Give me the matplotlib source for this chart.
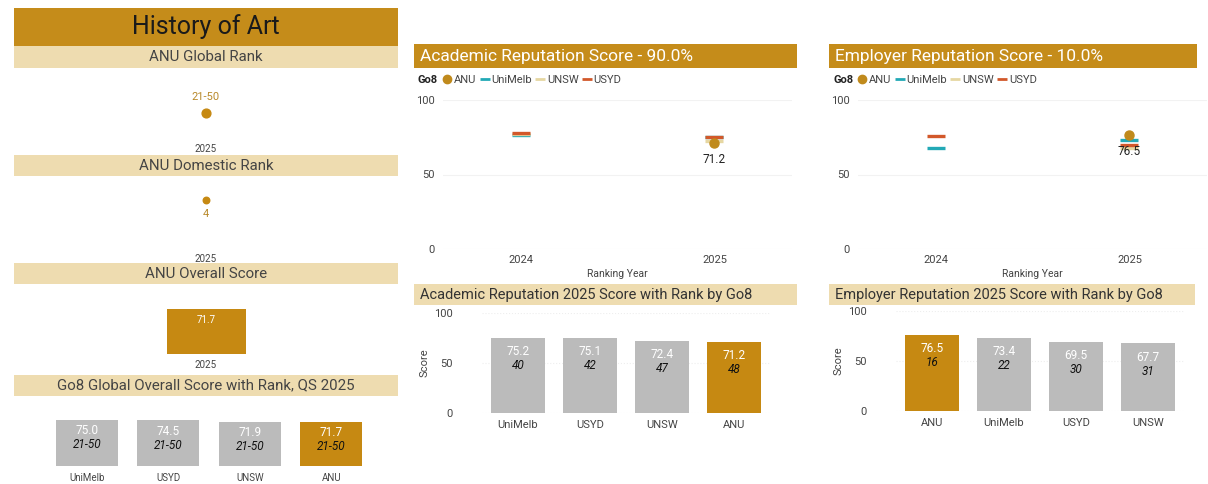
import matplotlib.pyplot as plt
import numpy as np
from matplotlib.patches import Rectangle
from matplotlib.lines import Line2D

plt.rcParams['font.family'] = ['Roboto', 'DejaVu Sans']

# datos
years = ['2024', '2025']
unis_line = ['ANU', 'UniMelb', 'UNSW', 'USYD']
acad_line = {
    'ANU': [np.nan, 71.2],
    'UniMelb': [76.3, 75.2],
    'UNSW': [77.1, 72.4],
    'USYD': [78.0, 75.1],
}
emp_line = {
    'ANU': [np.nan, 76.5],
    'UniMelb': [67.8, 73.4],
    'UNSW': [np.nan, 67.7],
    'USYD': [76.0, 69.5],
}

global_rank = '21-50'
domestic_rank = 4
overall_year = ['2025']
overall_score = [71.7]

go8_unis = ['UniMelb', 'USYD', 'UNSW', 'ANU']
go8_scores = [75.0, 74.5, 71.9, 71.7]
go8_ranks = ['21-50', '21-50', '21-50', '21-50']

acad_unis = ['UniMelb', 'USYD', 'UNSW', 'ANU']
acad_scores = [75.2, 75.1, 72.4, 71.2]
acad_ranks = [40, 42, 47, 48]

emp_unis = ['ANU', 'UniMelb', 'USYD', 'UNSW']
emp_scores = [76.5, 73.4, 69.5, 67.7]
emp_ranks = [16, 22, 30, 31]

# colores
GOLD = '#C58C1A'
ANU_C = '#C68912'
BAND = '#EEDCB0'
GREY = '#BBBBBB'
line_colors = {'ANU': '#C08A1C', 'UniMelb': '#22A9B6', 'UNSW': '#E6D7A2', 'USYD': '#D2582A'}
TXT = '#444444'

W, H = 1208, 484
fig = plt.figure(figsize=(W / 100, H / 100), dpi=100)


def px_ax(x0, y0, x1, y1):
    return fig.add_axes([x0 / W, 1 - y1 / H, (x1 - x0) / W, (y1 - y0) / H])


def band(x0, y0, x1, y1, color, text, tcolor, size, center=True, weight='normal'):
    fig.add_artist(Rectangle((x0 / W, 1 - y1 / H), (x1 - x0) / W, (y1 - y0) / H,
                             transform=fig.transFigure, color=color, lw=0))
    if center:
        fig.text((x0 + x1) / 2 / W, 1 - (y0 + y1) / 2 / H, text, color=tcolor,
                 fontsize=size, ha='center', va='center', weight=weight)
    else:
        fig.text((x0 + 6) / W, 1 - (y0 + y1) / 2 / H, text, color=tcolor,
                 fontsize=size, ha='left', va='center', weight=weight)


def clean(ax):
    for s in ax.spines.values():
        s.set_visible(False)
    ax.tick_params(length=0)
    ax.set_facecolor('none')


# ---------- panel izquierdo ----------
band(14, 8, 398, 46, GOLD, 'History of Art', '#1a1a1a', 18)
band(14, 46, 398, 68, BAND, 'ANU Global Rank', TXT, 10.8)
band(14, 155, 398, 176, BAND, 'ANU Domestic Rank', TXT, 10.8)
band(14, 263, 398, 284, BAND, 'ANU Overall Score', TXT, 10.8)
band(14, 375, 398, 396, BAND, 'Go8 Global Overall Score with Rank, QS 2025', TXT, 10.8)

# global rank
ax = px_ax(14, 85, 398, 141)
ax.scatter([0], [1], s=40, color=ANU_C, zorder=3)
ax.annotate(global_rank, (0, 1), xytext=(0, 8), textcoords='offset points',
            color='#B8892A', fontsize=8, ha='center', va='bottom')
ax.set_xlim(-0.5, 0.5)
ax.set_ylim(0, 2)
ax.set_xticks([0])
ax.set_xticklabels(overall_year, fontsize=7, color=TXT)
ax.set_yticks([])
ax.tick_params(axis='x', pad=2)
clean(ax)

# domestic rank
ax = px_ax(14, 186, 398, 249)
ax.scatter([0], [domestic_rank], s=22, color=ANU_C, zorder=3)
ax.annotate(str(domestic_rank), (0, domestic_rank), xytext=(0, -10),
            textcoords='offset points', color='#B8892A', fontsize=8,
            ha='center', va='center')
ax.set_xlim(-0.5, 0.5)
ax.set_ylim(0, 5.15)
ax.set_xticks([0])
ax.set_xticklabels(overall_year, fontsize=7, color=TXT)
ax.set_yticks([])
clean(ax)

# overall score
ax = px_ax(14, 300, 398, 354)
ax.bar([0], overall_score, width=79 / 384, color=ANU_C)
ax.annotate(f'{overall_score[0]:.1f}', (0, overall_score[0]), xytext=(0, -8),
            textcoords='offset points', color='white', fontsize=7,
            ha='center', va='center')
ax.set_xlim(-0.5, 0.5)
ax.set_ylim(0, 86)
ax.set_xticks([0])
ax.set_xticklabels(overall_year, fontsize=7, color=TXT)
ax.set_yticks([])
ax.tick_params(axis='x', pad=4)
clean(ax)

# go8 global
ax = px_ax(46, 408, 372, 466)
cols = [ANU_C if u == 'ANU' else GREY for u in go8_unis]
x = np.arange(len(go8_unis))
ax.bar(x, go8_scores, width=0.76, color=cols)
for i in range(len(x)):
    ax.annotate(f'{go8_scores[i]:.1f}', (x[i], go8_scores[i]), xytext=(0, -8),
                textcoords='offset points', color='white', fontsize=8.5,
                ha='center', va='center')
    ax.annotate(go8_ranks[i], (x[i], go8_scores[i]), xytext=(0, -18),
                textcoords='offset points', color='#111111', fontsize=8.5,
                ha='center', va='center', style='italic')
ax.set_xlim(-0.5, 3.5)
ax.set_ylim(0, 94)
ax.set_xticks(x)
ax.set_xticklabels(go8_unis, fontsize=7, color=TXT)
ax.set_yticks([])
ax.tick_params(axis='x', pad=5)
clean(ax)


# ---------- graficos de linea ----------
def line_chart(x0, x1, title, data, label_val):
    band(x0, 44, x1, 68, GOLD, title, 'white', 12.5, center=False)
    ax = px_ax(x0 + 29, 100, x0 + 29 + 349, 249)
    xs = np.arange(len(years))
    for u in unis_line:
        if u == 'ANU':
            ax.plot(xs, data[u], 'o', color=line_colors[u], ms=6.5, zorder=3)
        else:
            ax.plot(xs, data[u], '_', color=line_colors[u], ms=13, mew=2.4, zorder=2)
    ax.annotate(f'{label_val:.1f}', (1, label_val), xytext=(0, -7),
                textcoords='offset points', color='#222222', fontsize=8.5,
                ha='center', va='top', zorder=5)
    ax.set_xlim(-0.4, 1.4)
    ax.set_ylim(0, 100)
    ax.set_yticks([0, 50, 100])
    ax.set_xticks(xs)
    ax.set_xticklabels(years)
    ax.tick_params(axis='both', labelsize=8, colors=TXT)
    ax.tick_params(axis='y', pad=6)
    ax.tick_params(axis='x', pad=4)
    ax.grid(axis='y', color='#F2F2F2', lw=0.8)
    ax.set_axisbelow(True)
    ax.set_xlabel('Ranking Year', fontsize=7.5, color=TXT, labelpad=3)
    clean(ax)
    # leyenda
    fig.text((x0 + 4) / W, 1 - 80 / H, 'Go8', fontsize=8, weight='bold', color='#222222',
             va='center')
    handles = []
    for u in unis_line:
        if u == 'ANU':
            handles.append(Line2D([], [], marker='o', ls='', color=line_colors[u], ms=6))
        else:
            handles.append(Line2D([], [], marker='_', ls='', color=line_colors[u], ms=7, mew=2))
    fig.legend(handles, unis_line, loc='center left',
               bbox_to_anchor=((x0 + 30) / W, 1 - 80 / H), ncol=4, frameon=False,
               fontsize=8, handlelength=0.6, handletextpad=0.3, columnspacing=0.45,
               labelcolor=TXT, borderpad=0, borderaxespad=0)


line_chart(414, 797, 'Academic Reputation Score - 90.0%', acad_line, acad_line['ANU'][1])
line_chart(829, 1197, 'Employer Reputation Score - 10.0%', emp_line, emp_line['ANU'][1])


# ---------- barras por Go8 ----------
def bar_chart(x0, x1, ax_x0, ybase, title, unis, scores, ranks, lab_x):
    band(x0, 284, x1, 305, BAND, title, '#333333', 10.5, center=False)
    ax = px_ax(ax_x0, ybase - 100, ax_x0 + 288, ybase)
    xs = np.arange(len(unis))
    cols = [ANU_C if u == 'ANU' else GREY for u in unis]
    ax.bar(xs, scores, width=0.76, color=cols)
    for i in range(len(xs)):
        ax.annotate(f'{scores[i]:.1f}', (xs[i], scores[i]), xytext=(0, -10),
                    textcoords='offset points', color='white', fontsize=8.5,
                    ha='center', va='center')
        ax.annotate(str(ranks[i]), (xs[i], scores[i]), xytext=(0, -20),
                    textcoords='offset points', color='#111111', fontsize=8.5,
                    ha='center', va='center', style='italic')
    ax.set_xlim(-0.5, 3.5)
    ax.set_ylim(0, 100)
    ax.set_yticks([0, 50, 100])
    ax.set_xticks(xs)
    ax.set_xticklabels(unis)
    ax.tick_params(axis='both', labelsize=8, colors=TXT)
    ax.tick_params(axis='y', pad=21)
    ax.tick_params(axis='x', pad=5)
    ax.grid(axis='y', color='#EEEEEE', lw=0.8, ls=':')
    ax.set_axisbelow(True)
    ax.set_ylabel('Score', fontsize=8, color=TXT)
    ax.yaxis.set_label_coords((lab_x + 6 - ax_x0) / 288, 0.5)
    clean(ax)


bar_chart(414, 797, 482, 413, 'Academic Reputation 2025 Score with Rank by Go8',
          acad_unis, acad_scores, acad_ranks, 423)
bar_chart(829, 1195, 896, 411, 'Employer Reputation 2025 Score with Rank by Go8',
          emp_unis, emp_scores, emp_ranks, 838)

plt.savefig('out.png', dpi=100)
